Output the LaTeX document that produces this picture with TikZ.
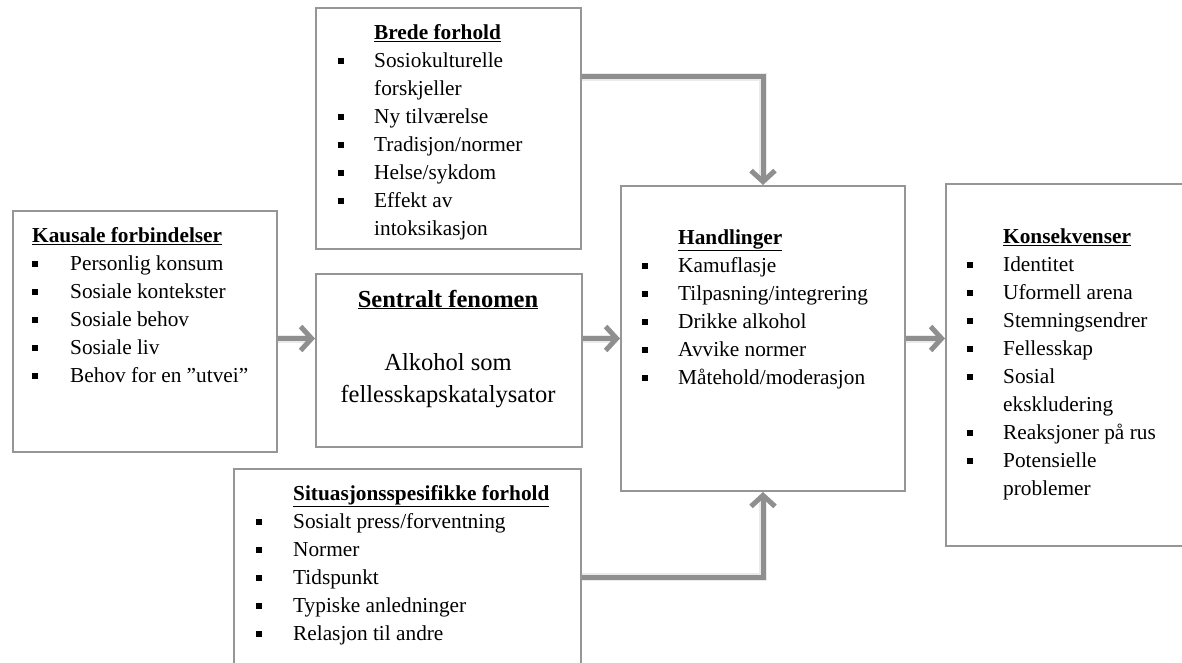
\documentclass[tikz,border=0pt]{standalone}
\usepackage{fontspec}
\setmainfont{Liberation Serif}
\usetikzlibrary{arrows.meta}
\definecolor{boxgray}{RGB}{150,150,150}
\definecolor{arrgray}{RGB}{143,143,143}
\newcommand\bsq{\rule[3.5pt]{6pt}{6pt}}
\newcommand\hdr[1]{\underline{\textbf{#1}}}
\begin{document}
\begin{tikzpicture}[x=1pt,y=-1pt,
  box/.style={draw=boxgray, line width=2pt, fill=white, anchor=north west, inner sep=0pt},
  txt/.style={anchor=north west, inner sep=0pt, font=\fontsize{21.3}{28}\selectfont},
  arr/.style={draw=arrgray, line width=5pt, -{Straight Barb[length=11pt,width=24pt]}},
  shd/.style={draw=black, opacity=0.08, line width=8pt}]
\useasboundingbox (0,0) rectangle (1182,663);
\clip (0,0) rectangle (1182,663);

% boxes
\node[box, minimum width=265pt, minimum height=241pt] (brede) at (315,7) {};
\node[box, minimum width=264pt, minimum height=241pt] (kausal) at (12,210) {};
\node[box, minimum width=266pt, minimum height=173pt] (sentral) at (315,273) {};
\node[box, minimum width=284pt, minimum height=305pt] (hand) at (620,185) {};
\node[box, minimum width=250pt, minimum height=362pt] (kons) at (945,183) {};
\node[box, minimum width=347pt, minimum height=240pt] (sit) at (233,468) {};

% texts
\node[txt] (bredetx) at (338,19.4) {\begin{tabular}{@{}p{36pt}@{}l@{}}
 & \hdr{Brede forhold}\\
 \bsq & Sosiokulturelle\\
 & forskjeller\\
 \bsq & Ny tilværelse\\
 \bsq & Tradisjon/normer\\
 \bsq & Helse/sykdom\\
 \bsq & Effekt av\\
 & intoksikasjon
\end{tabular}};

\node[txt] (kausaltx) at (32,222.4) {\begin{tabular}{@{}p{38pt}@{}l@{}}
 \multicolumn{2}{@{}l@{}}{\hdr{Kausale forbindelser}}\\
 \bsq & Personlig konsum\\
 \bsq & Sosiale kontekster\\
 \bsq & Sosiale behov\\
 \bsq & Sosiale liv\\
 \bsq & Behov for en ”utvei”
\end{tabular}};

\node[anchor=base, inner sep=0pt, font=\fontsize{24.5}{32}\selectfont] (sentralhd) at (448,307) {\hdr{Sentralt fenomen}};
\node[anchor=base, inner sep=0pt, font=\fontsize{24.5}{32}\selectfont] (sentraltx1) at (448,370) {Alkohol som};
\node[anchor=base, inner sep=0pt, font=\fontsize{24.5}{32}\selectfont] (sentraltx2) at (448,402) {fellesskapskatalysator};

\node[txt] (handtx) at (642,224.4) {\begin{tabular}{@{}p{36pt}@{}l@{}}
 & \hdr{Handlinger}\\
 \bsq & Kamuflasje\\
 \bsq & Tilpasning/integrering\\
 \bsq & Drikke alkohol\\
 \bsq & Avvike normer\\
 \bsq & Måtehold/moderasjon
\end{tabular}};

\node[txt] (konstx) at (967,223.4) {\begin{tabular}{@{}p{36pt}@{}l@{}}
 & \hdr{Konsekvenser}\\
 \bsq & Identitet\\
 \bsq & Uformell arena\\
 \bsq & Stemningsendrer\\
 \bsq & Fellesskap\\
 \bsq & Sosial\\
 & ekskludering\\
 \bsq & Reaksjoner på rus\\
 \bsq & Potensielle\\
 & problemer
\end{tabular}};

\node[txt] (sittx) at (256,480.4) {\begin{tabular}{@{}p{37pt}@{}l@{}}
 & \hdr{Situasjonsspesifikke forhold}\\
 \bsq & Sosialt press/forventning\\
 \bsq & Normer\\
 \bsq & Tidspunkt\\
 \bsq & Typiske anledninger\\
 \bsq & Relasjon til andre
\end{tabular}};

% connectors (soft shadow, then arrow)
\begin{scope}[yshift=-3pt, xshift=1pt]
\draw[shd] (kausal.east |- hand.center) -- ([xshift=-4pt]sentral.west |- hand.center);
\draw[shd] (sentral.east |- hand.center) -- ([xshift=-4pt]hand.west);
\draw[shd] (hand.east) -- ([xshift=-4pt]kons.west |- hand.center);
\draw[shd] ([yshift=-70pt]brede.north east) -| ([yshift=6pt]hand.north);
\draw[shd] ([yshift=-109pt]sit.north east) -| ([yshift=-6pt]hand.south);
\end{scope}
\draw[arr] (kausal.east |- hand.center) -- (sentral.west |- hand.center);
\draw[arr] (sentral.east |- hand.center) -- (hand.west);
\draw[arr] (hand.east) -- (kons.west |- hand.center);
\draw[arr] ([yshift=-70pt]brede.north east) -| (hand.north);
\draw[arr] ([yshift=-109pt]sit.north east) -| (hand.south);
\end{tikzpicture}
\end{document}
